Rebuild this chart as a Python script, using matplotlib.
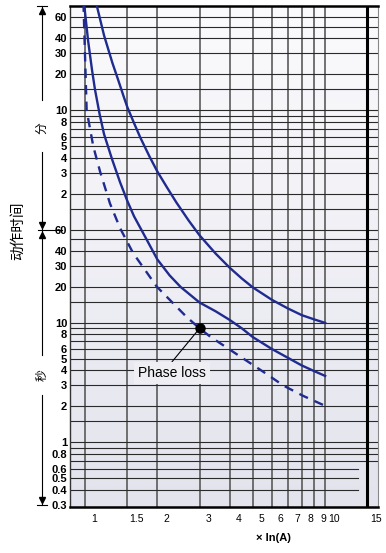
import numpy as np
import matplotlib
matplotlib.use('Agg')
import matplotlib.pyplot as plt
from matplotlib import transforms
from matplotlib.colors import LinearSegmentedColormap
from matplotlib.lines import Line2D

plt.rcParams['font.family'] = ['Liberation Sans', 'Noto Sans CJK SC', 'DejaVu Sans']

# trip curves: x = multiple of In, t = seconds
upper_x = [1.12, 1.2, 1.3, 1.37, 1.45, 1.5, 1.6, 1.7, 1.85, 2.0, 2.2, 2.4, 2.7, 3.0,
           3.5, 4.0, 4.5, 5.0, 6.0, 7.0, 8.0, 9.0, 10.0]
upper_t = [4500, 2550, 1500, 1100, 780, 640, 470, 355, 250, 185, 135, 102, 72, 54,
           38, 29, 23.5, 19.8, 15.6, 13.2, 11.6, 10.7, 10.0]

middle_x = [0.99, 1.03, 1.07, 1.1, 1.15, 1.2, 1.3, 1.4, 1.5, 1.6, 1.75, 2.0, 2.25, 2.5,
            3.0, 3.5, 4.0, 4.5, 5.0, 6.0, 7.0, 8.0, 9.0, 10.0]
middle_t = [4800, 2300, 1300, 900, 560, 380, 230, 150, 105, 78, 56, 34, 25, 20,
            14.8, 12.5, 10.6, 9.0, 7.6, 6.05, 5.1, 4.4, 3.95, 3.6]

phase_x = [0.985, 1.016, 1.083, 1.155, 1.27, 1.4, 1.585, 1.99, 2.65, 3.0, 3.32, 4.02,
           5.62, 6.7, 8.1, 9.8]
phase_t = [4800, 600, 299, 185, 100, 62, 38.5, 20.1, 11.2, 9.0, 7.68, 5.95,
           3.81, 2.99, 2.45, 2.06]

phase_loss_point = (3.0, 9.0)

x_grid = [1, 1.5, 2, 3, 4, 5, 6, 7, 8, 9, 10, 15]
x_labels = ['1', '1.5', '2', '3', '4', '5', '6', '7', '8', '9', '10', '15']

# horizontal grid (seconds); the short ones stop before the right edge
y_grid = [0.7, 0.8, 0.9, 1, 1.5, 2, 3, 4, 5, 6, 7, 8, 9, 10, 15, 20, 30, 40, 50, 60, 90,
          120, 180, 240, 300, 360, 420, 480, 540, 600, 900, 1200, 1800, 2400, 3000, 3600]
y_grid_short = [0.4, 0.5, 0.6]
y_ticks = [0.3, 0.4, 0.5, 0.6, 0.8, 1, 2, 3, 4, 5, 6, 8, 10, 20, 30, 40, 60,
           120, 180, 240, 300, 360, 480, 600, 1200, 1800, 2400, 3600]
y_labels = ['0.3', '0.4', '0.5', '0.6', '0.8', '1', '2', '3', '4', '5', '6', '8', '10', '20', '30', '40', '60',
            '2', '3', '4', '5', '6', '8', '10', '20', '30', '40', '60']

W, H = 386, 553
fig = plt.figure(figsize=(W / 100, H / 100), dpi=100)
ax = fig.add_axes([70 / W, 46 / H, 308 / W, 501 / H])
ax.set_xscale('log')
ax.set_yscale('log')

bg = LinearSegmentedColormap.from_list('bg', ['#e3e3ed', '#fbfbfd'])
ax.imshow(np.linspace(0, 1, 256).reshape(-1, 1), cmap=bg, extent=[0, 1, 0, 1],
          transform=ax.transAxes, aspect='auto', zorder=0, origin='lower')

for v in x_grid[:-1]:
    ax.axvline(v, color='#5a5a5a', lw=1.2, zorder=1)
ax.axvline(x_grid[-1], color='k', lw=2.2, zorder=3)
for v in y_grid:
    ax.axhline(v, color='#2a2a2a', lw=0.8, zorder=1)
for v in y_grid_short:
    ax.axhline(v, xmax=0.935, color='#2a2a2a', lw=0.8, zorder=1)

navy = '#1f2b8e'
ax.plot(upper_x, upper_t, color=navy, lw=1.7, zorder=4)
ax.plot(middle_x, middle_t, color=navy, lw=1.7, zorder=4)
ax.plot(phase_x, phase_t, color=navy, lw=1.7, ls=(0, (4, 3)), zorder=4)

ax.plot(*phase_loss_point, 'o', color='k', ms=6.5, zorder=7)
ax.annotate('Phase loss', xy=phase_loss_point, xytext=(2.3, 3.8), fontsize=10,
            ha='center', va='center', zorder=6,
            bbox=dict(boxstyle='square,pad=0.3', fc='#eeeef3', ec='none'),
            arrowprops=dict(arrowstyle='-', color='k', lw=0.8, shrinkA=0, shrinkB=0,
                            relpos=(0.45, 1.0)))

ax.set_xlim(0.866, 16.6)
ax.set_ylim(0.288, 4484)

ax.xaxis.set_minor_locator(plt.NullLocator())
ax.yaxis.set_minor_locator(plt.NullLocator())
ax.set_xticks(x_grid)
ax.set_xticklabels(x_labels)
ax.set_yticks(y_ticks)
ax.set_yticklabels(y_labels)
ax.tick_params(axis='x', length=0, pad=5, labelsize=7.5)
ax.tick_params(axis='y', length=0, pad=2, labelsize=8)
for lbl in ax.get_yticklabels():
    lbl.set_fontweight('bold')
off = transforms.ScaledTranslation(0.09, 0, fig.dpi_scale_trans)
for lbl in ax.get_xticklabels():
    lbl.set_transform(lbl.get_transform() + off)

ax.spines['top'].set_linewidth(1.8)
ax.spines['bottom'].set_linewidth(1.8)
ax.spines['left'].set_linewidth(1.0)
ax.spines['left'].set_color('#333333')
ax.spines['right'].set_linewidth(0.8)
ax.spines['right'].set_color('#888888')


def fp(x, y):
    return x / W, 1 - y / H


def seg(x0, y0, x1, y1):
    (a, b), (c, d) = fp(x0, y0), fp(x1, y1)
    fig.add_artist(Line2D([a, c], [b, d], color='k', lw=0.8))


# time-axis brackets on the left
seg(42, 6, 42, 100)
seg(42, 152, 42, 355)
seg(42, 395, 42, 505)
seg(37, 6, 47, 6)
seg(38, 230, 62, 230)
seg(37, 505, 47, 505)
for (x, y, m) in [(42, 11, '^'), (42, 225, 'v'), (42, 235, '^'), (42, 500, 'v')]:
    a, b = fp(x, y)
    fig.add_artist(Line2D([a], [b], marker=m, color='k', ms=4, lw=0))

cjk = ['Noto Sans CJK SC', 'DejaVu Sans']
fig.text(*fp(18, 231), '动作时间', rotation=90, fontsize=10.5, family=cjk, ha='center', va='center')
fig.text(*fp(42, 128), '分', rotation=90, fontsize=8.5, family=cjk, ha='center', va='center')
fig.text(*fp(42, 375), '秒', rotation=90, fontsize=8.5, family=cjk, ha='center', va='center')
fig.text(*fp(273, 538), '× In(A)', fontsize=8, weight='bold', ha='center', va='center')

fig.savefig('out.png', dpi=100)
